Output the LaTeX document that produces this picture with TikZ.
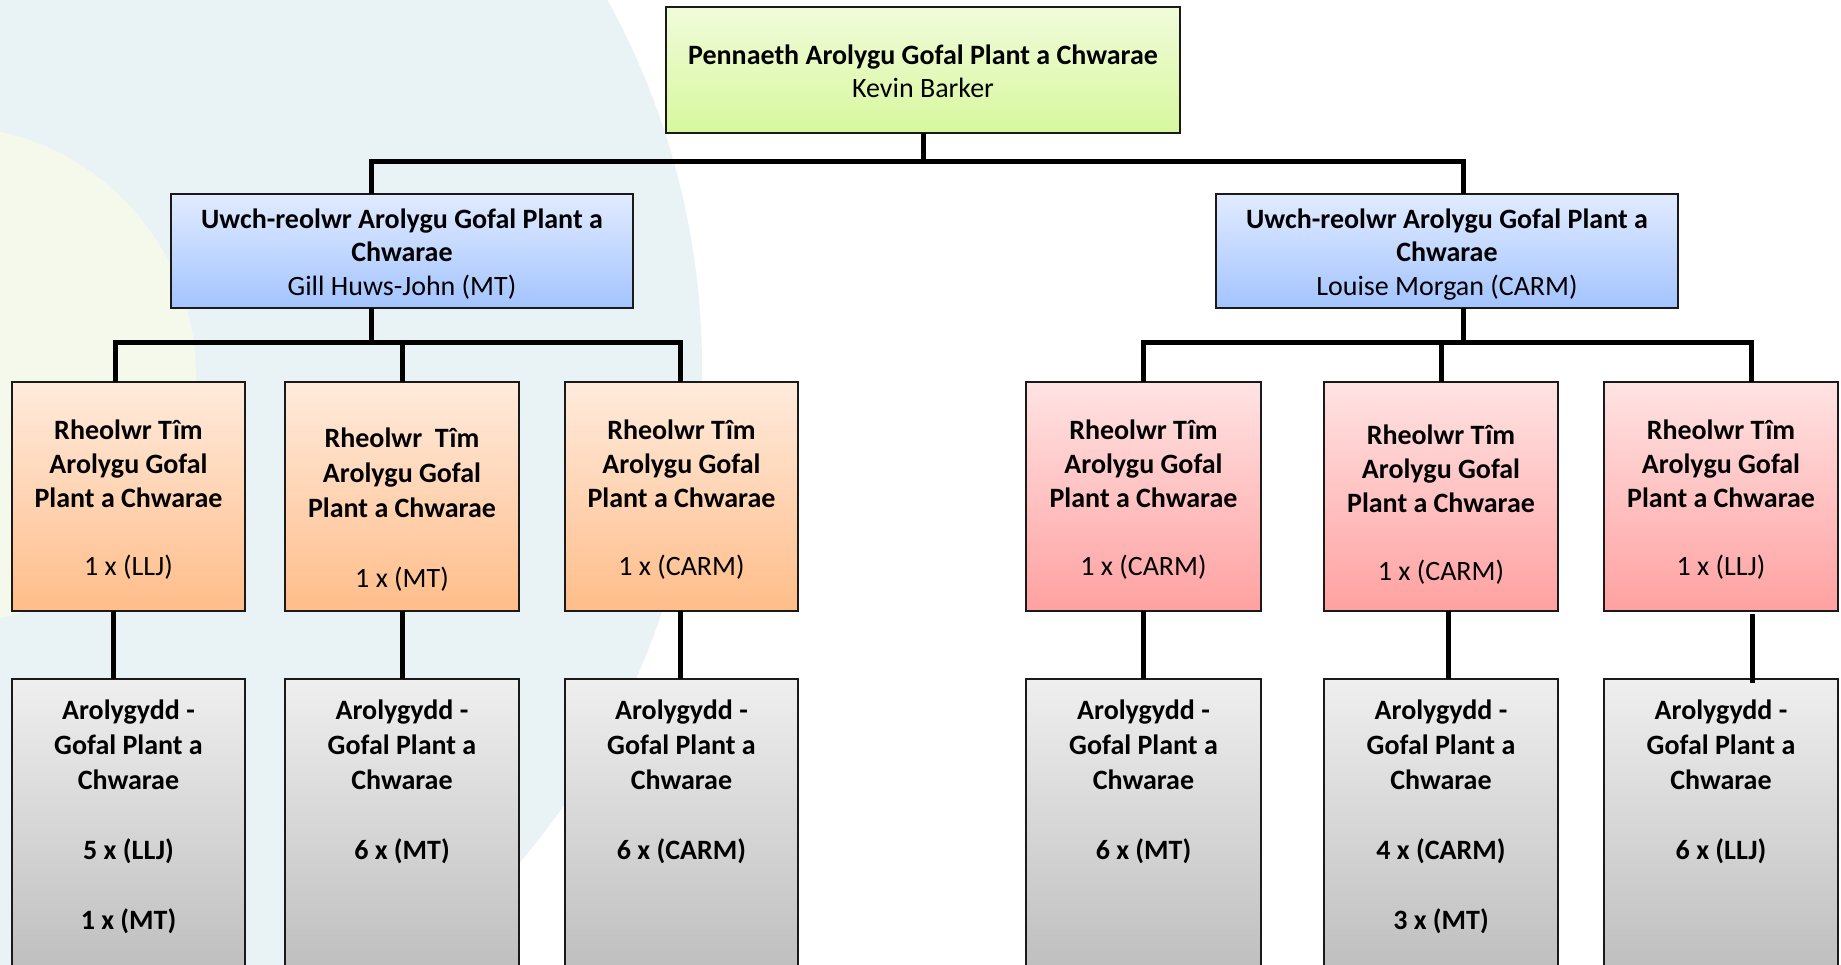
\documentclass[tikz,border=0pt]{standalone}
\usepackage{fontspec}
\setmainfont{Carlito}
\usetikzlibrary{calc}
\newcommand\BLn[1]{\strut{\bfseries #1}}
\newcommand\RLn[1]{\strut #1}
\definecolor{bgblue}{RGB}{233,242,245}
\definecolor{bgyellow}{RGB}{245,249,236}
\definecolor{boxline}{RGB}{26,26,26}
\definecolor{greenT}{RGB}{241,251,218}
\definecolor{greenB}{RGB}{215,248,158}
\definecolor{blueT}{RGB}{225,235,255}
\definecolor{blueB}{RGB}{163,196,255}
\definecolor{orangeT}{RGB}{255,235,221}
\definecolor{orangeB}{RGB}{255,189,137}
\definecolor{pinkT}{RGB}{255,227,227}
\definecolor{pinkB}{RGB}{255,161,161}
\definecolor{grayT}{RGB}{239,239,239}
\definecolor{grayB}{RGB}{189,189,189}
\begin{document}
\begin{tikzpicture}[x=1pt,y=-1pt,
  box/.style={draw=boxline, line width=2pt, rectangle, inner sep=0pt, outer sep=0pt, anchor=north west},
  headbox/.style={box, top color=greenT, bottom color=greenB, minimum width=514pt, minimum height=126pt},
  mgrbox/.style={box, top color=blueT, bottom color=blueB, minimum width=462pt, minimum height=114pt},
  orbox/.style={box, top color=orangeT, bottom color=orangeB, minimum width=233pt, minimum height=229pt},
  pkbox/.style={box, top color=pinkT, bottom color=pinkB, minimum width=235pt, minimum height=229pt},
  grbox/.style={box, top color=grayT, bottom color=grayB, minimum height=300pt},
  conn/.style={line width=5pt, draw=black, line join=miter},
  txt/.style={align=center, inner sep=0pt, font=\fontsize{28}{34}\selectfont},
  txtA/.style={txt, font=\fontsize{28}{35}\selectfont\bfseries}
]
\useasboundingbox (0,0) rectangle (1841,965);
\begin{scope}
\clip (0,0) rectangle (1841,965);
\fill[bgblue] (-60,368) circle[radius=762];
\fill[bgyellow] (-53,375) circle[radius=249];

% boxes
\node[headbox] (top) at (666,7) {};
\node[mgrbox] (lv2L) at (171,194) {};
\node[mgrbox] (lv2R) at (1216,194) {};

\node[orbox] (L1) at (12,382) {};
\node[orbox, minimum width=234pt] (L2) at (285,382) {};
\node[orbox] (L3) at (565,382) {};
\node[pkbox] (R1) at (1026,382) {};
\node[pkbox, minimum width=234pt] (R2) at (1324,382) {};
\node[pkbox, minimum width=234pt] (R3) at (1604,382) {};

\node[grbox, minimum width=233pt] (M1) at (12,679) {};
\node[grbox, minimum width=234pt] (M2) at (285,679) {};
\node[grbox, minimum width=233pt] (M3) at (565,679) {};
\node[grbox, minimum width=235pt] (M4) at (1026,679) {};
\node[grbox, minimum width=234pt] (M5) at (1324,679) {};
\node[grbox, minimum width=234pt] (M6) at (1604,679) {};

% connectors
\draw[conn] (top.south) -- (top.south |- 0,162);
\draw[conn] (lv2L.north -| 371,0) -- ++(0,-32) -| (lv2R.north -| 1463,0);
\draw[conn] (lv2L.south -| 371,0) -- ++(0,35);
\draw[conn] (L1.north -| 115,0) -- ++(0,-39) -| (L3.north -| 680,0);
\draw[conn] (L2.north) -- ++(0,-39);
\draw[conn] (lv2R.south -| 1463,0) -- ++(0,35);
\draw[conn] (R1.north) -- ++(0,-39) -| (R3.north -| 1751,0);
\draw[conn] (R2.north) -- ++(0,-39);
\draw[conn] (L1.south -| 113,0) -- (M1.north -| 113,0);
\draw[conn] (L2.south) -- (M2.north);
\draw[conn] (L3.south -| 680,0) -- (M3.north -| 680,0);
\draw[conn] (R1.south) -- (M4.north);
\draw[conn] (R2.south -| 1448,0) -- (M5.north -| 1448,0);
\draw[conn] ($(R3.south -| 1752,0)+(0,3)$) -- ($(M6.north -| 1752,0)+(0,4)$);

% texts
\node[txt, font=\fontsize{28}{33}\selectfont] (tTop) at (923,74) {\BLn{Pennaeth Arolygu Gofal Plant a Chwarae}\\\RLn{Kevin Barker}};
\node[txt, font=\fontsize{28}{33.5}\selectfont] (tL) at (402,255) {\BLn{Uwch-reolwr Arolygu Gofal Plant a}\\\BLn{Chwarae}\\\RLn{Gill Huws-John (MT)}};
\node[txt, font=\fontsize{28}{33.5}\selectfont] (tR) at (1447,255) {\BLn{Uwch-reolwr Arolygu Gofal Plant a}\\\BLn{Chwarae}\\\RLn{Louise Morgan (CARM)}};

\node[txt] (tL1) at (128.5,501) {\BLn{Rheolwr Tîm}\\\BLn{Arolygu Gofal}\\\BLn{Plant a Chwarae}\\\strut\\\RLn{1 x (LLJ)}};
\node[txt, font=\fontsize{28}{35}\selectfont] (tL2) at (402,510.5) {\BLn{Rheolwr\ \ Tîm}\\\BLn{Arolygu Gofal}\\\BLn{Plant a Chwarae}\\\strut\\\RLn{1 x (MT)}};
\node[txt] (tL3) at (681.5,501) {\BLn{Rheolwr Tîm}\\\BLn{Arolygu Gofal}\\\BLn{Plant a Chwarae}\\\strut\\\RLn{1 x (CARM)}};
\node[txt] (tR1) at (1143.5,501) {\BLn{Rheolwr Tîm}\\\BLn{Arolygu Gofal}\\\BLn{Plant a Chwarae}\\\strut\\\RLn{1 x (CARM)}};
\node[txt] (tR2) at (1441,505.5) {\BLn{Rheolwr Tîm}\\\BLn{Arolygu Gofal}\\\BLn{Plant a Chwarae}\\\strut\\\RLn{1 x (CARM)}};
\node[txt] (tR3) at (1721,501) {\BLn{Rheolwr Tîm}\\\BLn{Arolygu Gofal}\\\BLn{Plant a Chwarae}\\\strut\\\RLn{1 x (LLJ)}};

\node[txtA] (tM1) at (128.5,817) {\RLn{Arolygydd -}\\\RLn{Gofal Plant a}\\\RLn{Chwarae}\\\strut\\\RLn{5 x (LLJ)}\\\strut\\\RLn{1 x (MT)}};
\node[txtA] (tM2) at (402,782) {\RLn{Arolygydd -}\\\RLn{Gofal Plant a}\\\RLn{Chwarae}\\\strut\\\RLn{6 x (MT)}};
\node[txtA] (tM3) at (681.5,782) {\RLn{Arolygydd -}\\\RLn{Gofal Plant a}\\\RLn{Chwarae}\\\strut\\\RLn{6 x (CARM)}};
\node[txtA] (tM4) at (1143.5,782) {\RLn{Arolygydd -}\\\RLn{Gofal Plant a}\\\RLn{Chwarae}\\\strut\\\RLn{6 x (MT)}};
\node[txtA] (tM5) at (1441,817) {\RLn{Arolygydd -}\\\RLn{Gofal Plant a}\\\RLn{Chwarae}\\\strut\\\RLn{4 x (CARM)}\\\strut\\\RLn{3 x (MT)}};
\node[txtA] (tM6) at (1721,782) {\RLn{Arolygydd -}\\\RLn{Gofal Plant a}\\\RLn{Chwarae}\\\strut\\\RLn{6 x (LLJ)}};
\end{scope}
\end{tikzpicture}
\end{document}
